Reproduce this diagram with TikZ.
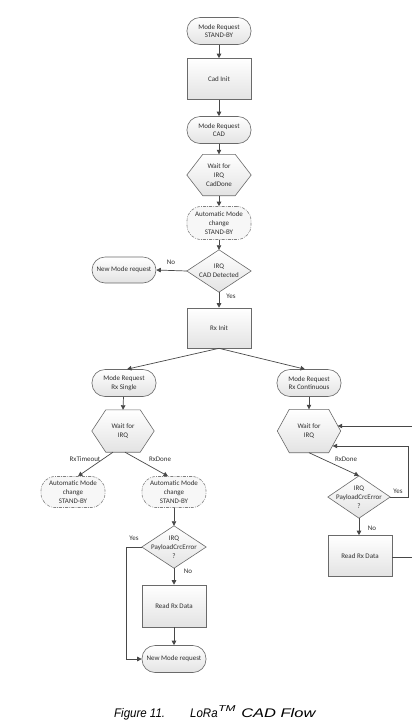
\documentclass[tikz,border=0pt]{standalone}
\usepackage{fontspec}
\setmainfont{Carlito}
\newfontfamily\capfont{Liberation Sans}
\usetikzlibrary{arrows.meta,calc,backgrounds}
\definecolor{edgec}{HTML}{6A6A6A}
\definecolor{linec}{HTML}{484848}
\definecolor{txtc}{HTML}{303030}
\tikzset{
  base/.style={font=\fontsize{7}{8.8}\selectfont, text=txtc, align=center, inner sep=0pt},
  rectbox/.style={base, draw=edgec, line width=0.6pt, top color=white, bottom color=black!11, minimum width=64pt, minimum height=41pt},
  term/.style={base, draw=edgec, line width=0.6pt, rounded corners=13pt, top color=white, bottom color=black!11, minimum width=64pt, minimum height=27pt},
  autobox/.style={base, draw=edgec!85, line width=0.6pt, dash pattern=on 3pt off 1.2pt on 0.8pt off 1.2pt, rounded corners=14pt, fill=black!3, minimum width=64pt, minimum height=32pt},
  holder/.style={base, minimum width=64pt, minimum height=42pt},
  shp/.style={draw=edgec, line width=0.6pt, top color=white, bottom color=black!11},
  arr/.style={draw=linec, line width=0.7pt, -{Triangle[width=4.5pt,length=4.5pt]}},
  plain/.style={draw=linec, line width=0.7pt},
  lbl/.style={base},
  capt/.style={font=\capfont\itshape\fontsize{12.5}{13}\selectfont, inner sep=0pt, anchor=base west}
}
\newcommand\hexbg[2]{\path[shp] (#1.west) -- ([xshift=#2]#1.north west) -- ([xshift=-#2]#1.north east) -- (#1.east) -- ([xshift=-#2]#1.south east) -- ([xshift=#2]#1.south west) -- cycle;}
\newcommand\diabg[1]{\path[shp] (#1.west) -- (#1.north) -- (#1.east) -- (#1.south) -- cycle;}
\begin{document}
\begin{tikzpicture}[x=1pt,y=-1pt]
\clip (0,0) rectangle (412,721);
\useasboundingbox (0,0) rectangle (412,721);
% main column
\node[term] (ms) at (219,31) {Mode Request\\STAND-BY};
\node[rectbox] (cad) at (219,79) {Cad Init};
\node[term] (mcad) at (219,130) {Mode Request\\CAD};
\node[holder, minimum height=41pt] (wcd) at (219,175) {Wait for\\IRQ\\CadDone};
\node[autobox, minimum height=33pt] (am1) at (219,223) {Automatic Mode\\change\\STAND-BY};
\node[holder] (dcad) at (219,271) {IRQ\\CAD Detected};
\node[term, minimum height=26pt] (nm1) at (124,270) {New Mode request};
\node[rectbox, minimum height=40pt] (rx) at (219,328) {Rx Init};
\node[term] (mrs) at (124,383) {Mode Request\\Rx Single};
\node[term] (mrc) at (309,383) {Mode Request\\Rx Continuous};
% left branch
\node[holder, minimum width=62pt] (wl) at (123,431) {Wait for\\IRQ};
\node[autobox, minimum height=31pt] (aml) at (73,492) {Automatic Mode\\change\\STAND-BY};
\node[autobox, minimum height=31pt] (amr) at (174,492) {Automatic Mode\\change\\STAND-BY};
\node[holder] (dl) at (174,547) {IRQ\\PayloadCrcError\\?};
\node[rectbox, minimum height=42pt] (rdl) at (174,606) {Read Rx Data};
\node[term] (nml) at (174,659) {New Mode request};
% right branch
\node[holder, minimum width=63pt, minimum height=43pt] (wr) at (309,431) {Wait for\\IRQ};
\node[holder, minimum width=62pt] (dr) at (359,497) {IRQ\\PayloadCrcError\\?};
\node[rectbox] (rdr) at (360,556) {Read Rx Data};
% polygon shapes behind text
\begin{scope}[on background layer]
  \hexbg{wcd}{16pt}
  \hexbg{wl}{14pt}
  \hexbg{wr}{12pt}
  \diabg{dcad}
  \diabg{dl}
  \diabg{dr}
\end{scope}
% connectors main column
\draw[arr] (ms) -- (cad);
\draw[arr] (cad) -- (mcad);
\draw[arr] (mcad) -- (wcd);
\draw[arr] (wcd) -- (am1);
\draw[arr] (am1) -- (dcad.north);
\draw[arr] (dcad.west) -- (nm1.east);
\node[lbl] (lno1) at (171,262) {No};
\draw[arr] (dcad.south) -- (rx.north);
\node[lbl] (lyes1) at (231,296) {Yes};
\draw[arr] (rx.south) -- ([xshift=3pt]mrs.north);
\draw[arr] (rx.south) -- ([xshift=-4pt]mrc.north);
\draw[arr] (mrs) -- (wl.north);
\draw[arr] (mrc) -- (wr.north);
% left branch connectors
\draw[arr] ([xshift=-10pt]wl.south) -- ([xshift=5pt]aml.north);
\node[lbl] (lto) at (85,459) {RxTimeout};
\draw[arr] ([xshift=2pt]wl.south) -- ([xshift=-6pt]amr.north);
\node[lbl] (ldone1) at (160,459) {RxDone};
\draw[arr] (amr) -- (dl.north);
\draw[arr] (dl.south) -- (rdl.north);
\node[lbl] (lno2) at (188,571) {No};
\draw[arr] (rdl) -- (nml);
\coordinate (yl) at (126,547);
\draw[arr] (dl.west) -- (yl) |- (nml.west);
\node[lbl] (lyes2) at (134,538) {Yes};
% right branch connectors
\draw[arr] (wr.south) -- (dr.north);
\node[lbl] (ldone2) at (346,459) {RxDone};
\draw[arr] (dr.south) -- (rdr.north -| dr.south);
\node[lbl] (lno3) at (372,528) {No};
\coordinate (yr) at (408,497);
\coordinate (hin1) at ($(wr.east)+(-8,15)$);
\draw[arr] (dr.east) -- (yr) |- (hin1);
\node[lbl] (lyes3) at (398,491) {Yes};
\coordinate (loopx) at (420,557);
\coordinate (hin2) at ($(wr.east)+(-3,-5)$);
\draw[arr] (rdr.east |- loopx) -- (loopx) |- (hin2);
% caption
\node[capt, xscale=0.92] (cap1) at (114,717) {Figure 11.};
\node[capt, xscale=0.92] (cap2) at (190,717) {LoRa};
\node[capt, font=\capfont\itshape\fontsize{8.5}{9}\selectfont, xscale=1.4] (cap3) at (218,711) {TM};
\node[capt, xscale=1.32] (cap4) at (241,717) {CAD Flow};
\end{tikzpicture}
\end{document}
